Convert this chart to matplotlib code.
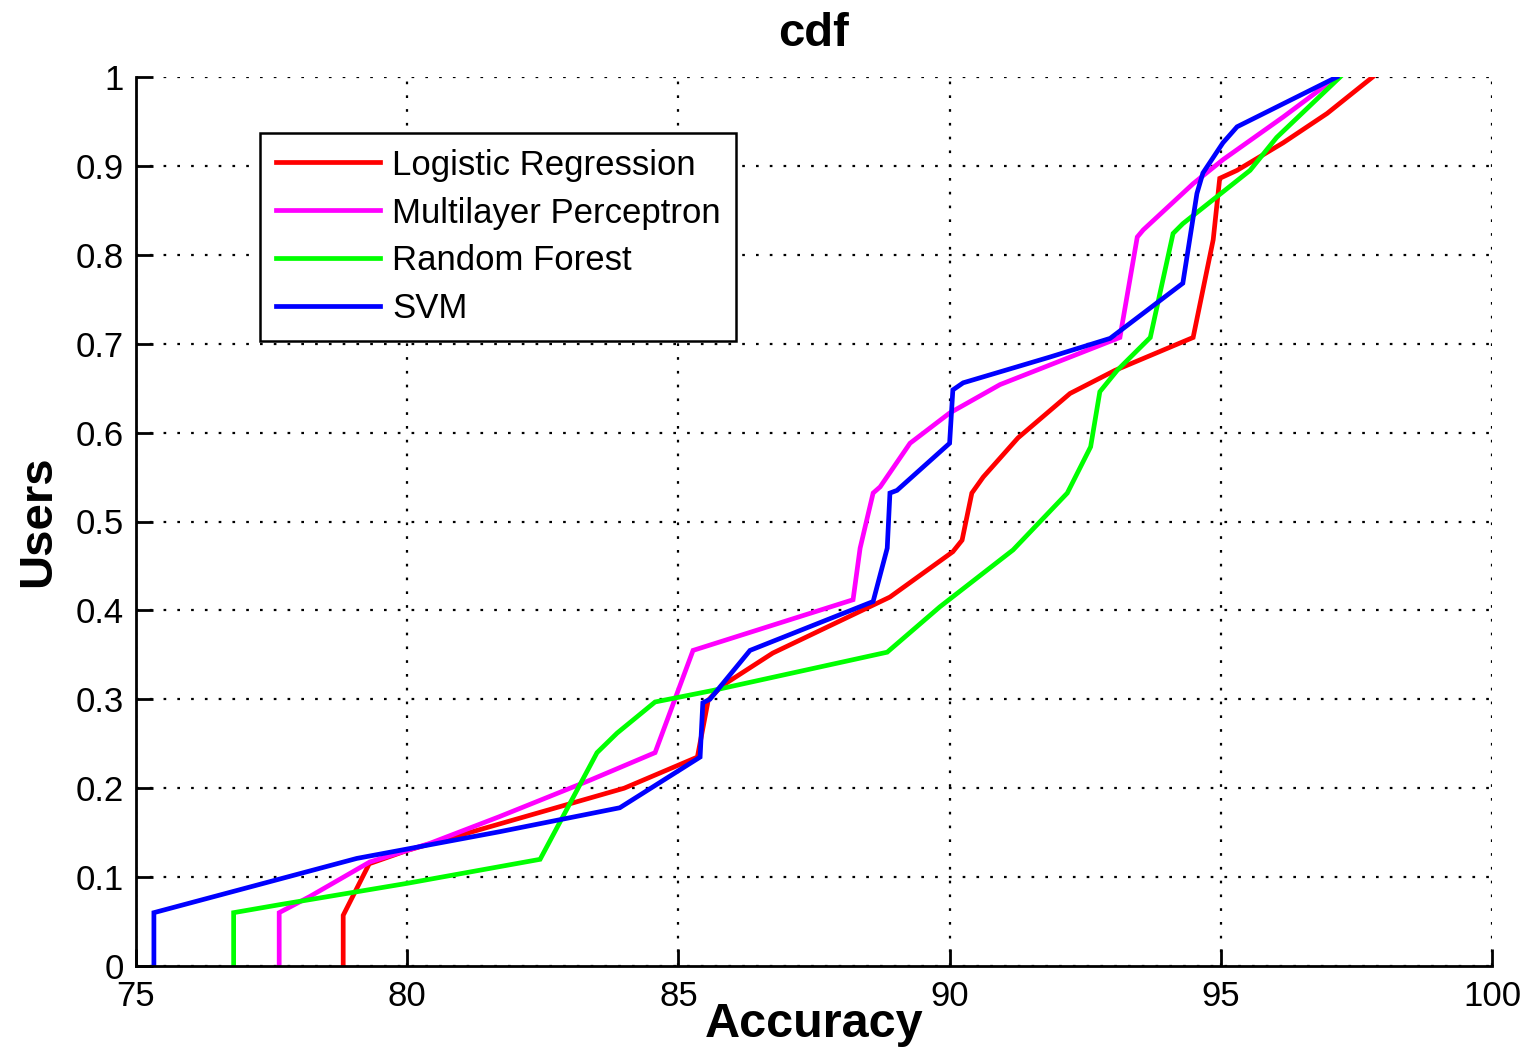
import matplotlib
matplotlib.use('Agg')
import matplotlib.pyplot as plt

# values (accuracy, fraction of users)
lr_x = [78.82, 78.82, 79.3, 80.0, 82.0, 84.0, 85.35, 85.55, 85.8, 86.74, 88.9, 90.06, 90.23, 90.41,
        90.62, 91.26, 92.22, 93.05, 94.49, 94.86, 94.98, 95.3, 96.15, 96.96, 97.8]
lr_y = [0.0, 0.057, 0.115, 0.13, 0.165, 0.2, 0.235, 0.299, 0.315, 0.352, 0.415, 0.466, 0.479, 0.532,
        0.55, 0.594, 0.644, 0.67, 0.707, 0.817, 0.886, 0.895, 0.926, 0.959, 1.0]

mlp_x = [77.64, 77.64, 78.2, 79.31, 80.42, 81.7, 83.37, 84.57, 85.27, 88.22, 88.35, 88.59, 88.72,
         89.27, 90.0, 90.32, 90.93, 93.14, 93.46, 93.57, 94.49, 95.04, 96.15, 97.14]
mlp_y = [0.0, 0.06, 0.078, 0.117, 0.138, 0.168, 0.209, 0.24, 0.355, 0.412, 0.47, 0.532, 0.539,
         0.588, 0.622, 0.633, 0.654, 0.707, 0.82, 0.828, 0.88, 0.907, 0.955, 1.0]

rf_x = [76.8, 76.8, 77.65, 80.0, 82.45, 83.5, 83.87, 84.57, 85.64, 88.85, 89.82, 91.17, 92.17,
        92.6, 92.77, 93.09, 93.7, 94.12, 94.3, 95.54, 96.03, 97.2]
rf_y = [0.0, 0.06, 0.069, 0.093, 0.12, 0.24, 0.262, 0.297, 0.31, 0.353, 0.404, 0.468, 0.532,
        0.584, 0.646, 0.67, 0.707, 0.824, 0.835, 0.895, 0.932, 1.0]

svm_x = [75.33, 75.33, 79.07, 81.7, 83.92, 85.4, 85.45, 85.58, 86.32, 88.59, 88.85, 88.9, 89.03,
         90.0, 90.06, 90.25, 91.85, 92.96, 94.3, 94.56, 94.67, 95.04, 95.3, 97.14]
svm_y = [0.0, 0.06, 0.121, 0.151, 0.178, 0.235, 0.296, 0.3, 0.355, 0.41, 0.47, 0.532, 0.535,
         0.588, 0.648, 0.656, 0.685, 0.706, 0.768, 0.869, 0.892, 0.926, 0.944, 1.0]

names = ['Logistic Regression', 'Multilayer Perceptron', 'Random Forest', 'SVM']
colors = ['#ff0000', '#ff00ff', '#00ff00', '#0000ff']
xticks = [75, 80, 85, 90, 95, 100]
yticks = [0, 0.1, 0.2, 0.3, 0.4, 0.5, 0.6, 0.7, 0.8, 0.9, 1]
ytick_labels = ['0', '0.1', '0.2', '0.3', '0.4', '0.5', '0.6', '0.7', '0.8', '0.9', '1']

plt.rcParams['font.family'] = ['Liberation Sans', 'DejaVu Sans']

fig = plt.figure(figsize=(15.23, 10.5), dpi=100)
ax = fig.add_axes([136 / 1523, 84 / 1050, 1356 / 1523, 889 / 1050])

series = [(lr_x, lr_y), (mlp_x, mlp_y), (rf_x, rf_y), (svm_x, svm_y)]
for (xs, ys), name, c in zip(series, names, colors):
    ax.plot(xs, ys, color=c, linewidth=3.4, label=name, solid_joinstyle='miter')

ax.set_xlim(75, 100)
ax.set_ylim(0, 1)
ax.set_xticks(xticks)
ax.set_xticklabels([str(t) for t in xticks])
ax.set_yticks(yticks)
ax.set_yticklabels(ytick_labels)

ax.grid(True, color='black', linestyle=(0, (1.2, 5)), linewidth=1.6)
ax.set_axisbelow(True)

ax.spines['top'].set_visible(False)
ax.spines['right'].set_visible(False)
ax.spines['left'].set_linewidth(2)
ax.spines['bottom'].set_linewidth(2)
ax.tick_params(direction='in', length=12, width=2, labelsize=25, pad=10)
ax.tick_params(axis='y', pad=9)

ax.set_title('cdf', fontsize=34, fontweight='bold', pad=22)
ax.set_xlabel('Accuracy', fontsize=35, fontweight='bold')
ax.xaxis.set_label_coords(0.5, -0.041)
ax.set_ylabel('Users', fontsize=34, fontweight='bold')
ax.yaxis.set_label_coords(-0.056, 0.5)

leg = ax.legend(loc='upper left', bbox_to_anchor=(0.0914, 0.937), fontsize=25,
                fancybox=False, edgecolor='black', framealpha=1, handlelength=3.0,
                handletextpad=0.35, labelspacing=0.43, borderpad=0.45, borderaxespad=0)
leg.get_frame().set_linewidth(1.8)
for line in leg.get_lines():
    line.set_linewidth(3.4)

fig.savefig('out.png', dpi=100)
